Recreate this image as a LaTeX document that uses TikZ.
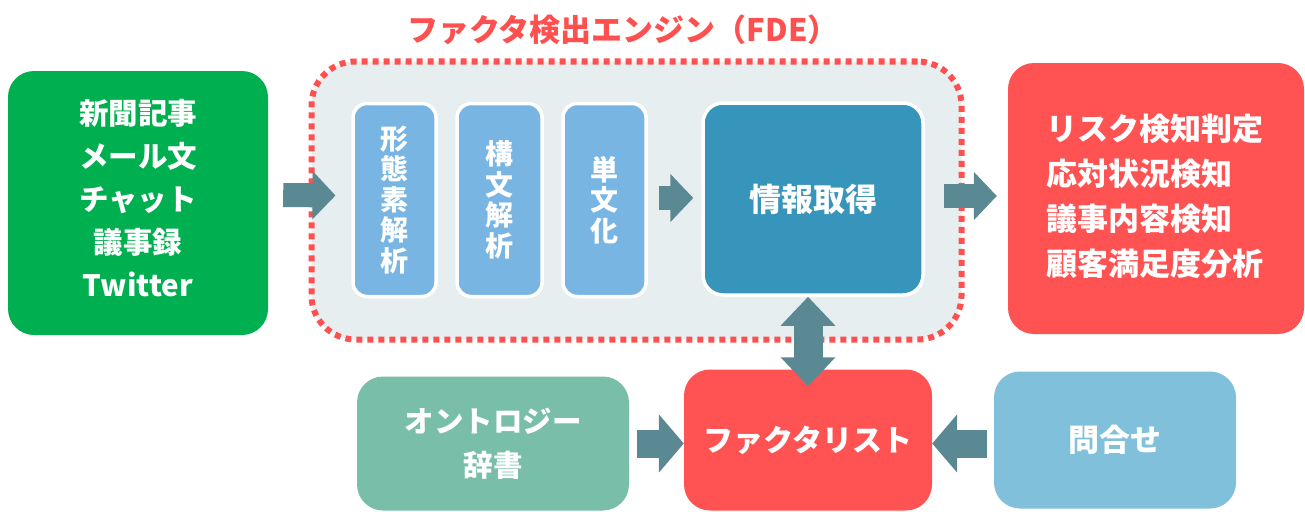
\documentclass[tikz,border=0pt]{standalone}
\usepackage{fontspec}
\setmainfont{Noto Sans CJK JP}
\usetikzlibrary{arrows.meta}
\definecolor{cgreen}{HTML}{00AF50}
\definecolor{cred}{HTML}{FF5252}
\definecolor{cdot}{HTML}{FF5050}
\definecolor{cfdebg}{HTML}{E6EEF0}
\definecolor{clight}{HTML}{78B5E2}
\definecolor{cinfo}{HTML}{3795BB}
\definecolor{carrow}{HTML}{5B8993}
\definecolor{conto}{HTML}{78BEA8}
\definecolor{cq}{HTML}{80C0DA}
\begin{document}
\begin{tikzpicture}[x=1pt,y=-1pt,
  box/.style={rectangle, rounded corners=26pt, inner sep=0pt, align=center, text=white,
    font=\bfseries\fontsize{29.5}{44}\selectfont},
  stage/.style={box, draw=white, line width=3.5pt, fill=clight, rounded corners=14pt,
    minimum height=193pt, font=\bfseries\fontsize{28}{30.5}\selectfont},
  blockarrow/.style={draw=carrow, line width=24pt, -{Triangle[length=23pt,width=47pt]}},
  blockarrowv/.style={draw=carrow, line width=29pt, {Triangle[length=29pt,width=53pt]}-{Triangle[length=29pt,width=53pt]}},
  blockarrowb/.style={draw=carrow, line width=28pt, -{Triangle[length=25pt,width=57pt]}}
]
\useasboundingbox (0,0) rectangle (1305,511);
% FDE container
\node[rectangle, rounded corners=44pt, fill=cfdebg, draw=cdot, line width=6pt,
  dash pattern=on 6pt off 5pt, minimum width=650pt, minimum height=278pt, inner sep=0pt]
  (fde) at (636.5,200.5) {};
\node[text=cdot, font=\bfseries\fontsize{31}{34}\selectfont, inner sep=0pt] (title) at (623,30)
  {ファクタ検出エンジン（FDE）};
% source box
\node[box, fill=cgreen, minimum width=260pt, minimum height=264pt] (src) at (138,203) {};
\node[inner sep=0pt, align=center, text=white, font=\bfseries\fontsize{29.5}{43}\selectfont]
  (srctext) at (138,198) {新聞記事\\メール文\\チャット\\議事録\\Twitter};
% stages
\node[stage, minimum width=83pt] (m1) at (394.5,200) {形\\態\\素\\解\\析};
\node[stage, minimum width=85pt] (m2) at (499.5,200) {構\\文\\解\\析};
\node[stage, minimum width=83pt] (m3) at (604.5,200) {単\\文\\化};
\node[box, draw=white, line width=3.5pt, fill=cinfo, rounded corners=20pt,
  minimum width=220pt, minimum height=192pt, font=\bfseries\fontsize{32}{34}\selectfont]
  (info) at (813,199) {情報取得};
% output box
\node[box, fill=cred, minimum width=296pt, minimum height=271pt] (out) at (1156,198.5) {};
\node[inner sep=0pt, align=left, text=white, font=\bfseries\fontsize{31}{45}\selectfont]
  (outtext) at (1155,196) {リスク検知判定\\応対状況検知\\議事内容検知\\顧客満足度分析};
% bottom row
\node[box, fill=cred, minimum width=248pt, minimum height=141pt,
  font=\bfseries\fontsize{30}{32}\selectfont] (fl) at (808,440) {ファクタリスト};
\node[box, fill=conto, minimum width=272pt, minimum height=134pt] (onto) at (493,443.5)
  {オントロジー\\辞書};
\node[box, fill=cq, minimum width=242pt, minimum height=137pt,
  font=\bfseries\fontsize{31}{32}\selectfont] (q) at (1115,440) {問合せ};
% connectors
\draw[blockarrow] ([xshift=15pt,yshift=8pt]src.east) -- ([xshift=27pt,yshift=5pt]fde.west);
\draw[blockarrow] ([xshift=11pt,yshift=2pt]m3.east) -- ([xshift=-8pt,yshift=1pt]info.west);
\draw[blockarrow] ([xshift=19pt,yshift=3pt]info.east) -- ([xshift=-11pt,yshift=2.5pt]out.west);
\draw[blockarrowv] (fl.north |- info.south) -- ([yshift=-17pt]fl.north);
\draw[blockarrowb] ([xshift=8pt]onto.east) -- (onto.east -| fl.west);
\draw[blockarrowb] ([xshift=-7pt]q.west |- onto.east) -- (onto.east -| fl.east);
\end{tikzpicture}
\end{document}
